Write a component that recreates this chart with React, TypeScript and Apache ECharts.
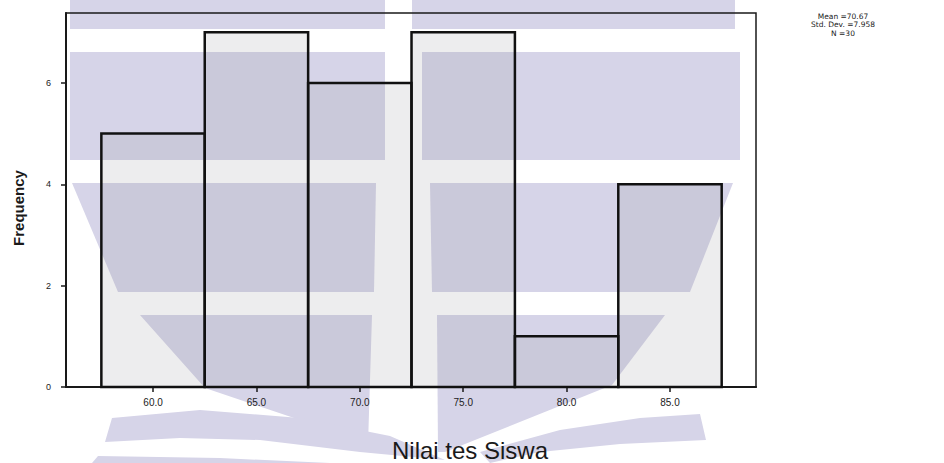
import React, { useEffect, useRef } from "react";
import * as echarts from "echarts";

const binMids = [60, 65, 70, 75, 80, 85];
const frequencies = [5, 7, 6, 7, 1, 4];
const binWidth = 5;
const xTickValues = [60, 65, 70, 75, 80, 85];
const yTickValues = [0, 2, 4, 6];
const statsLines = ["Mean =70.67", "Std. Dev. =7.958", "N =30"];
const xTitle = "Nilai tes Siswa";
const yTitle = "Frequency";

const WM = "#d6d4e8";

function wmPolys() {
  const polys: number[][][] = [
    [[70, 0], [385, 0], [385, 29], [70, 29]],
    [[412, 0], [735, 0], [735, 29], [412, 29]],
    [[70, 52], [385, 52], [385, 160], [70, 160]],
    [[422, 52], [740, 52], [740, 160], [422, 160]],
    [[72, 183], [376, 183], [374, 292], [118, 292]],
    [[430, 183], [733, 183], [690, 292], [432, 292]],
    [[140, 315], [372, 315], [368, 445], [300, 420], [205, 388]],
    [[437, 315], [665, 315], [612, 385], [445, 452], [438, 452]],
    [[105, 442], [112, 418], [200, 410], [300, 418], [390, 436], [445, 460], [360, 452], [260, 440], [180, 438]],
    [[92, 463], [98, 456], [220, 458], [330, 463]],
    [[480, 452], [560, 430], [640, 418], [700, 414], [706, 440], [620, 444], [540, 452], [490, 463]],
  ];
  return polys.map((pts) => ({
    type: "polygon",
    z: 0,
    silent: true,
    shape: { points: pts },
    style: { fill: WM },
  }));
}

export default function App() {
  const ref = useRef<HTMLDivElement>(null);
  useEffect(() => {
    if (!ref.current) return;
    const chart = echarts.init(ref.current, null, { renderer: "svg" });
    const data = binMids.map((m, i) => [m - binWidth / 2, m + binWidth / 2, frequencies[i]]);
    chart.setOption({
      animation: false,
      backgroundColor: "#ffffff",
      grid: {
        left: 66,
        right: 188,
        top: 13,
        bottom: 76,
        show: true,
        borderColor: "#1a1a1a",
        borderWidth: 1.5,
        backgroundColor: "transparent",
        z: 1,
      },
      xAxis: {
        type: "value",
        min: 55.79,
        max: 89.16,
        axisLine: { lineStyle: { color: "#1a1a1a", width: 2 } },
        axisTick: { customValues: xTickValues, length: 5, lineStyle: { color: "#1a1a1a", width: 1.5 } },
        axisLabel: {
          customValues: xTickValues,
          formatter: (v: number) => v.toFixed(1),
          color: "#222",
          fontSize: 10,
          fontFamily: "Liberation Sans, Arial, sans-serif",
          margin: 10,
        },
        splitLine: { show: false },
      },
      yAxis: {
        type: "value",
        min: 0,
        max: 7.38,
        axisLine: { show: true, lineStyle: { color: "#1a1a1a", width: 2 } },
        axisTick: { show: true, customValues: yTickValues, length: 5, lineStyle: { color: "#1a1a1a", width: 1.5 } },
        axisLabel: {
          customValues: yTickValues,
          color: "#222",
          fontSize: 9,
          fontFamily: "Liberation Sans, Arial, sans-serif",
          margin: 15,
        },
        splitLine: { show: false },
      },
      series: [
        {
          type: "custom",
          z: 5,
          data,
          encode: { x: [0, 1], y: 2 },
          renderItem: (params: any, api: any) => {
            const p0 = api.coord([api.value(0), api.value(2)]);
            const p1 = api.coord([api.value(1), 0]);
            return {
              type: "rect",
              shape: { x: p0[0], y: p0[1], width: p1[0] - p0[0], height: p1[1] - p0[1] },
              style: { fill: "rgba(140,140,150,0.16)", stroke: "#111", lineWidth: 2.5 },
            };
          },
        },
      ],
      graphic: [
        ...wmPolys(),
        {
          type: "text",
          z: 100,
          x: 18,
          y: 208,
          rotation: Math.PI / 2,
          style: {
            text: yTitle,
            fill: "#1a1a1a",
            font: "bold 15px 'Liberation Sans', Arial, sans-serif",
            textAlign: "center",
            textVerticalAlign: "middle",
          },
        },
        {
          type: "text",
          z: 100,
          x: 470,
          y: 450,
          style: {
            text: xTitle,
            fill: "#1a1a1a",
            font: "24px 'Liberation Sans', Arial, sans-serif",
            textAlign: "center",
            textVerticalAlign: "middle",
          },
        },
        ...statsLines.map((t, i) => ({
          type: "text",
          z: 100,
          x: 843,
          y: 16 + i * 8.5,
          style: {
            text: t,
            fill: "#1a1a1a",
            font: "7.5px 'DejaVu Sans', sans-serif",
            textAlign: "center",
            textVerticalAlign: "middle",
          },
        })),
      ],
    });
    return () => chart.dispose();
  }, []);
  return (
    <div
      ref={ref}
      style={{ position: "absolute", left: 0, top: 0, width: 944, height: 463 }}
    />
  );
}
